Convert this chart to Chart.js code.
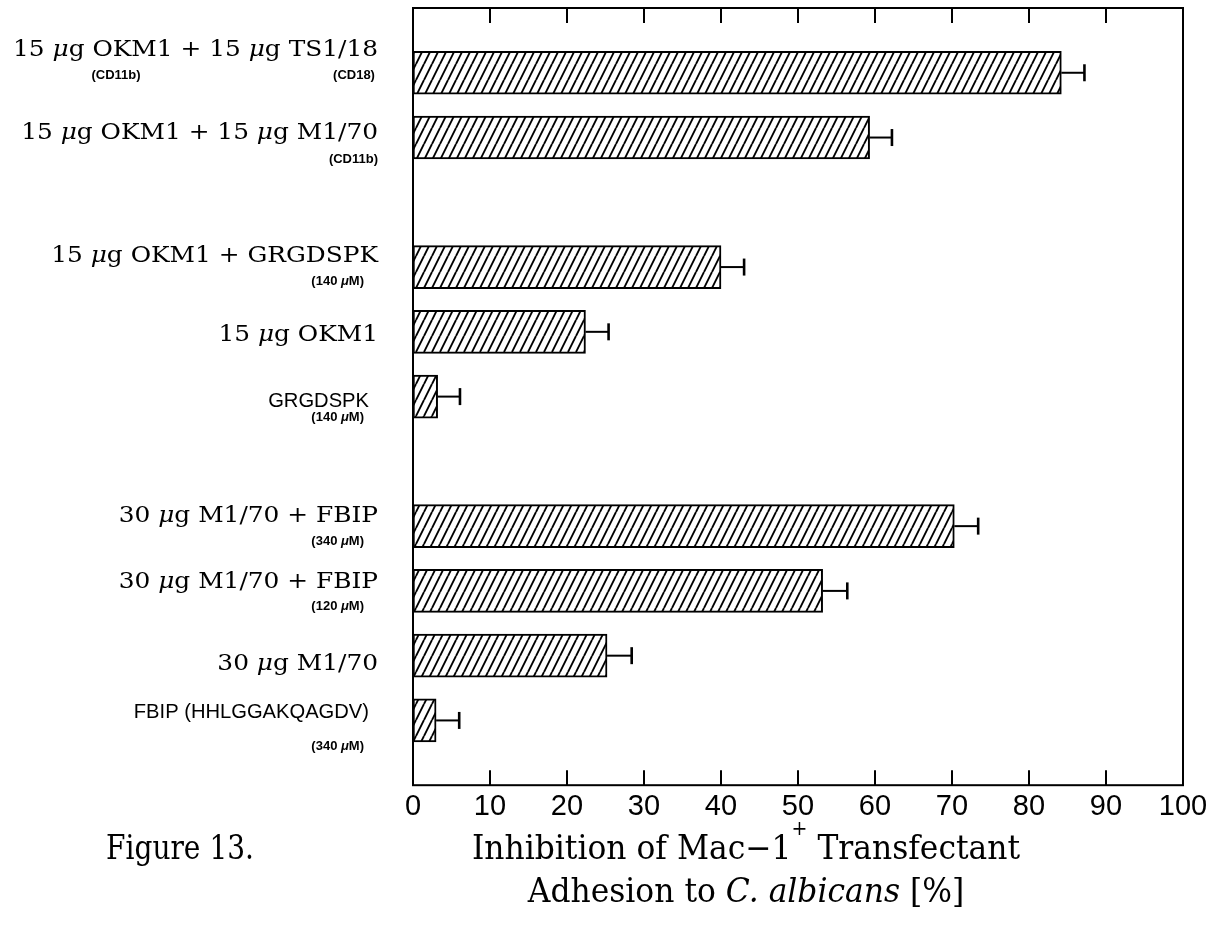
<!DOCTYPE html>
<html>
<head>
<meta charset="utf-8">
<script src="https://cdn.jsdelivr.net/npm/chart.js@4.4.1/dist/chart.umd.min.js"></script>
<style>
  html, body { margin: 0; padding: 0; background: #fff; }
  #wrap { width: 1221px; height: 930px; position: relative; }
</style>
</head>
<body>
<div id="wrap"><canvas id="c" width="1221" height="930"></canvas></div>
<script>
// Treatments (top to bottom), their small annotations, and slot positions on the category axis
const treatments = [
  '15 μg OKM1 + 15 μg TS1/18',
  '15 μg OKM1 + 15 μg M1/70',
  '15 μg OKM1 + GRGDSPK',
  '15 μg OKM1',
  'GRGDSPK',
  '30 μg M1/70 + FBIP',
  '30 μg M1/70 + FBIP',
  '30 μg M1/70',
  'FBIP (HHLGGAKQAGDV)'
];
const notes = [
  ['(CD11b)', '(CD18)'],
  ['(CD11b)'],
  ['(140 μM)'],
  [],
  ['(140 μM)'],
  ['(340 μM)'],
  ['(120 μM)'],
  [],
  ['(340 μM)']
];
const slots = [0, 1, 3, 4, 5, 7, 8, 9, 10];
// Inhibition of adhesion (%) and error (±)
const inhibition = [84.2, 59.3, 40.0, 22.4, 3.2, 70.3, 53.2, 25.2, 3.0];
const errors = [3.0, 2.9, 3.0, 3.0, 2.9, 3.1, 3.2, 3.2, 3.0];
const xTicks = [0, 10, 20, 30, 40, 50, 60, 70, 80, 90, 100];

// label layout: vertical offsets from the bar centre, font kind, placement of notes
const labelLayout = [
  { dy: -23, serif: true,  notes: [{ dy: 3, cx: 116 }, { dy: 3, cx: 354 }] },
  { dy: -5,  serif: true,  notes: [{ dy: 22, right: 378 }] },
  { dy: -11, serif: true,  notes: [{ dy: 14, right: 364 }] },
  { dy: 3,   serif: true,  notes: [] },
  { dy: 5,   serif: false, notes: [{ dy: 21, right: 364 }] },
  { dy: -10, serif: true,  notes: [{ dy: 15, right: 364 }] },
  { dy: -9,  serif: true,  notes: [{ dy: 16, right: 364 }] },
  { dy: 8,   serif: true,  notes: [] },
  { dy: -8,  serif: false, notes: [{ dy: 26, right: 364 }] }
];

function hatchPattern() {
  const c = document.createElement('canvas');
  c.width = 8; c.height = 16;
  const g = c.getContext('2d');
  g.fillStyle = '#fff';
  g.fillRect(0, 0, 8, 16);
  g.strokeStyle = '#000';
  g.lineWidth = 1.9;
  g.beginPath();
  for (const off of [-8, 0, 8]) {
    g.moveTo(off, 16);
    g.lineTo(off + 8, 0);
  }
  g.stroke();
  return g.createPattern(c, 'repeat');
}

// draw a string with μ in italic, right aligned, stretched horizontally by sx
function richText(ctx, text, xRight, yMid, size, family, weight, sx) {
  const parts = [];
  let buf = '';
  for (const ch of text) {
    if (ch === 'μ') {
      if (buf) parts.push({ t: buf, it: false });
      parts.push({ t: ch, it: true });
      buf = '';
    } else buf += ch;
  }
  if (buf) parts.push({ t: buf, it: false });
  const fontOf = p => `${p.it ? 'italic ' : ''}${weight} ${size}px ${family}`;
  let w = 0;
  parts.forEach(p => { ctx.font = fontOf(p); p.w = ctx.measureText(p.t).width; w += p.w; });
  ctx.save();
  ctx.translate(xRight - w * sx, yMid);
  ctx.scale(sx, 1);
  ctx.textBaseline = 'middle';
  ctx.textAlign = 'left';
  let x = 0;
  parts.forEach(p => { ctx.font = fontOf(p); ctx.fillText(p.t, x, 0); x += p.w; });
  ctx.restore();
  return w * sx;
}

const decorations = {
  id: 'decorations',
  afterDatasetsDraw(chart) {
    const { ctx, chartArea: a, scales: { x, y } } = chart;
    ctx.save();
    ctx.strokeStyle = '#000';
    ctx.fillStyle = '#000';

    // error bars
    inhibition.forEach((v, i) => {
      const py = y.getPixelForValue(slots[i]);
      const x0 = x.getPixelForValue(v);
      const x1 = x.getPixelForValue(v + errors[i]);
      ctx.lineWidth = 2;
      ctx.beginPath();
      ctx.moveTo(x0, py); ctx.lineTo(x1, py);
      ctx.stroke();
      ctx.lineWidth = 2.6;
      ctx.beginPath();
      ctx.moveTo(x1, py - 8.5); ctx.lineTo(x1, py + 8.5);
      ctx.stroke();
    });

    // frame and inward tick marks
    ctx.lineWidth = 2;
    ctx.strokeRect(a.left, a.top, a.right - a.left, a.bottom - a.top);
    x.ticks.forEach(t => {
      if (t.value <= x.min || t.value >= x.max) return;
      const px = x.getPixelForValue(t.value);
      ctx.beginPath();
      ctx.moveTo(px, a.top); ctx.lineTo(px, a.top + 15);
      ctx.moveTo(px, a.bottom); ctx.lineTo(px, a.bottom - 15);
      ctx.stroke();
    });

    // treatment labels
    const serif = '"DejaVu Serif", serif';
    const sans = '"Liberation Sans", Arial, sans-serif';
    treatments.forEach((t, i) => {
      const L = labelLayout[i];
      const cy = y.getPixelForValue(slots[i]);
      if (L.serif) richText(ctx, t, 378, cy + L.dy, 23, serif, 'normal', 1.08);
      else richText(ctx, t, 369, cy + L.dy, 21, sans, 'normal', 0.96);
      notes[i].forEach((n, k) => {
        const N = L.notes[k];
        ctx.font = `bold 13px ${sans}`;
        if (N.cx !== undefined) {
          const w = ctx.measureText(n).width;
          richText(ctx, n, N.cx + w / 2, cy + N.dy, 13, sans, 'bold', 1);
        } else {
          richText(ctx, n, N.right, cy + N.dy, 13, sans, 'bold', 1);
        }
      });
    });
    ctx.restore();
  },
  afterDraw(chart) {
    const { ctx } = chart;
    ctx.save();
    ctx.fillStyle = '#000';
    ctx.textBaseline = 'middle';
    const fam = '"DejaVu Serif", serif';
    const size = 33;
    const drawLine = (parts, cx, cy, sx) => {
      let w = 0;
      parts.forEach(p => { ctx.font = p.f; p.w = ctx.measureText(p.t).width; w += p.w; });
      ctx.save();
      ctx.translate(cx - w * sx / 2, cy);
      ctx.scale(sx, 1);
      let xx = 0;
      parts.forEach(p => { ctx.font = p.f; ctx.fillText(p.t, xx, p.dy || 0); xx += p.w; });
      ctx.restore();
    };
    // axis title, first line carries a superscript plus
    drawLine([
      { t: 'Inhibition of Mac\u22121', f: `${size}px ${fam}` },
      { t: '+', f: `20px ${fam}`, dy: -20 },
      { t: ' Transfectant', f: `${size}px ${fam}` }
    ], 746, 850, 0.95);
    drawLine([
      { t: 'Adhesion to ', f: `${size}px ${fam}` },
      { t: 'C. albicans', f: `italic ${size}px ${fam}` },
      { t: ' [%]', f: `${size}px ${fam}` }
    ], 746, 893, 0.95);
    drawLine([{ t: 'Figure 13.', f: `${size}px ${fam}` }], 180, 850, 0.85);
    ctx.restore();
  }
};

new Chart(document.getElementById('c'), {
  type: 'bar',
  data: {
    datasets: [{
      data: inhibition.map((v, i) => ({ x: v, y: slots[i] })),
      backgroundColor: hatchPattern(),
      borderColor: '#000',
      borderWidth: 2,
      borderSkipped: false,
      barThickness: 43
    }]
  },
  options: {
    indexAxis: 'y',
    responsive: false,
    animation: false,
    events: [],
    layout: { padding: { left: 413, right: 38, top: 8, bottom: 102 } },
    plugins: { legend: { display: false }, tooltip: { enabled: false } },
    scales: {
      x: {
        type: 'linear',
        min: 0, max: 100,
        afterBuildTicks: s => { s.ticks = xTicks.map(v => ({ value: v })); },
        grid: { display: false, drawTicks: false },
        border: { display: false },
        ticks: {
          padding: 4,
          color: '#000',
          font: { family: '"Liberation Sans", Arial, sans-serif', size: 29 }
        }
      },
      y: {
        type: 'linear',
        reverse: true,
        offset: false,
        min: -1, max: 11,
        display: false
      }
    }
  },
  plugins: [decorations]
});
</script>
</body>
</html>
